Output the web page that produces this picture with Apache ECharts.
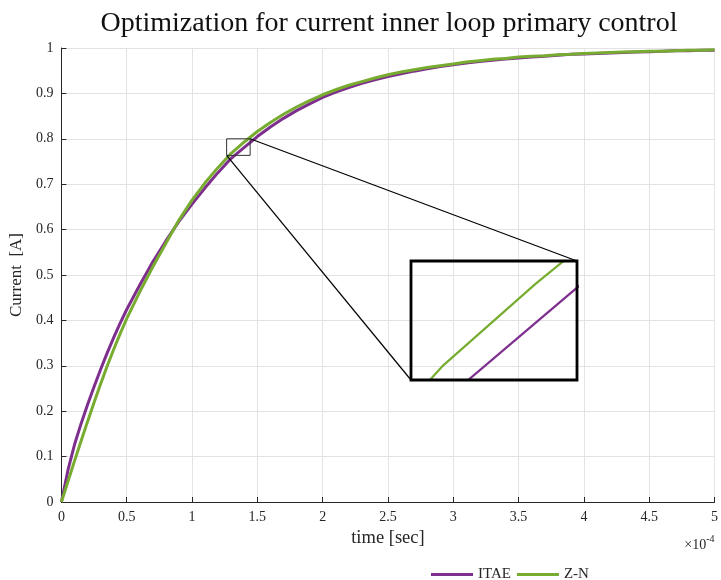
<!DOCTYPE html>
<html><head><meta charset="utf-8">
<script src="https://cdn.jsdelivr.net/npm/echarts@6/dist/echarts.min.js"></script>
<style>html,body{margin:0;padding:0;background:#fff}#c{width:721px;height:580px}</style>
</head><body><div id="c"></div>
<script>
// time in units of 1e-4 s
const time = [0,0.05,0.1,0.15,0.2,0.25,0.3,0.35,0.4,0.45,0.5,
  0.6,0.7,0.8,0.9,1.0,1.1,1.2,1.3,1.4,1.5,
  1.6,1.7,1.8,1.9,2.0,2.1,2.2,2.3,2.4,2.5,
  2.6,2.7,2.8,2.9,3.0,3.1,3.2,3.3,3.4,3.5,
  3.6,3.7,3.8,3.9,4.0,4.1,4.2,4.3,4.4,4.5,
  4.6,4.7,4.8,4.9,5.0];
const itae = [0,0.070,0.126,0.172,0.214,0.254,0.292,0.328,0.362,0.394,0.424,
  0.478,0.529,0.575,0.618,0.656,0.692,0.726,0.757,0.781,0.805,
  0.826,0.845,0.862,0.877,0.891,0.903,0.913,0.922,0.930,0.937,
  0.943,0.949,0.954,0.959,0.963,0.967,0.970,0.973,0.976,0.978,
  0.980,0.982,0.984,0.986,0.987,0.988,0.989,0.990,0.991,0.992,
  0.993,0.994,0.994,0.995,0.995];
const zn = [0,0.045,0.090,0.134,0.177,0.219,0.260,0.299,0.336,0.371,0.404,
  0.463,0.518,0.570,0.621,0.665,0.703,0.737,0.768,0.793,0.816,
  0.836,0.854,0.870,0.884,0.897,0.908,0.918,0.926,0.934,0.941,
  0.947,0.952,0.957,0.961,0.965,0.969,0.972,0.975,0.977,0.980,
  0.982,0.983,0.985,0.986,0.988,0.989,0.990,0.991,0.992,0.993,
  0.993,0.994,0.995,0.995,0.996];
const seriesNames = ['ITAE','Z-N'];
const xTicks = [0,0.5,1,1.5,2,2.5,3,3.5,4,4.5,5];
const yTicks = [0,0.1,0.2,0.3,0.4,0.5,0.6,0.7,0.8,0.9,1];
const zoomX = [1.265,1.445];
const zoomY = [0.7635,0.80];

const FONT = "'Liberation Serif', 'Times New Roman', serif";
const AX = '#262626';
const PURPLE = '#7E2F8E', GREEN = '#77AC30';

const pts = arr => time.map((t,i)=>[t,arr[i]]);

const chart = echarts.init(document.getElementById('c'), null, {renderer:'canvas'});
const axisCommon = (ticks) => ({
  type:'value', min:ticks[0], max:ticks[ticks.length-1], interval:ticks[1]-ticks[0],
  axisLine:{show:true, lineStyle:{color:AX, width:1}},
  axisTick:{show:true, inside:true, length:5, lineStyle:{color:AX}},
  axisLabel:{color:AX, fontFamily:FONT, fontSize:14},
  splitLine:{show:true, lineStyle:{color:'#e3e3e3', width:1}}
});
const hiddenAxis = (r) => ({type:'value', min:r[0], max:r[1], show:false,
  axisLine:{show:false}, axisTick:{show:false}, axisLabel:{show:false}, splitLine:{show:false}});

chart.setOption({
  animation:false,
  backgroundColor:'#fff',
  title:{text:'Optimization for current inner loop primary control', left:384, top:5, textAlign:'center',
    textStyle:{fontFamily:FONT, fontSize:28, fontWeight:'normal', color:'#111'}},
  legend:{left:426, top:562, icon:'rect', itemWidth:42, itemHeight:3, itemGap:6,
    data:seriesNames, textStyle:{fontFamily:FONT, fontSize:15, color:AX}},
  grid:[
    {left:60, right:3, top:48, bottom:78},
    {left:411, top:261, width:166, height:119, show:false}
  ],
  xAxis:[
    Object.assign(axisCommon(xTicks), {gridIndex:0, name:'time [sec]', nameLocation:'middle', nameGap:27,
      nameTextStyle:{fontFamily:FONT, fontSize:18.5, color:AX}}),
    Object.assign(hiddenAxis(zoomX), {gridIndex:1})
  ],
  yAxis:[
    Object.assign(axisCommon(yTicks), {gridIndex:0, name:'Current  [A]', nameLocation:'middle', nameGap:32, nameRotate:90,
      nameTextStyle:{fontFamily:FONT, fontSize:17, color:AX}}),
    Object.assign(hiddenAxis(zoomY), {gridIndex:1})
  ],
  series:[
    {name:seriesNames[0], type:'line', data:pts(itae), showSymbol:false, lineStyle:{color:PURPLE, width:3}, itemStyle:{color:PURPLE}, z:2},
    {name:seriesNames[1], type:'line', data:pts(zn), showSymbol:false, lineStyle:{color:GREEN, width:3}, itemStyle:{color:GREEN}, z:3},
    {name:seriesNames[0], type:'line', xAxisIndex:1, yAxisIndex:1, data:pts(itae), showSymbol:false, clip:true, silent:true, lineStyle:{color:PURPLE, width:2.2}, itemStyle:{color:PURPLE}, z:2},
    {name:seriesNames[1], type:'line', xAxisIndex:1, yAxisIndex:1, data:pts(zn), showSymbol:false, clip:true, silent:true, lineStyle:{color:GREEN, width:2.2}, itemStyle:{color:GREEN}, z:3}
  ]
});

// annotation: zoom box, inset frame and connectors (positions from the axes' scales)
const m = (x,y)=>chart.convertToPixel({xAxisIndex:0, yAxisIndex:0}, [x,y]);
const s = (x,y)=>chart.convertToPixel({xAxisIndex:1, yAxisIndex:1}, [x,y]);
const rTL = m(zoomX[0], zoomY[1]), rBR = m(zoomX[1], zoomY[0]);
const iTL = s(zoomX[0], zoomY[1]), iBR = s(zoomX[1], zoomY[0]);
const xEnd = m(xTicks[xTicks.length-1], yTicks[0]);
chart.setOption({
  graphic:[
    {type:'rect', z:100, shape:{x:rTL[0], y:rTL[1], width:rBR[0]-rTL[0], height:rBR[1]-rTL[1]},
      style:{fill:null, stroke:'#333', lineWidth:1}},
    {type:'line', z:100, shape:{x1:rBR[0], y1:rTL[1], x2:iBR[0], y2:iTL[1]}, style:{stroke:'#000', lineWidth:1.2}},
    {type:'line', z:100, shape:{x1:rTL[0], y1:rBR[1], x2:iTL[0], y2:iBR[1]}, style:{stroke:'#000', lineWidth:1.2}},
    {type:'rect', z:101, shape:{x:iTL[0], y:iTL[1], width:iBR[0]-iTL[0], height:iBR[1]-iTL[1]},
      style:{fill:null, stroke:'#000', lineWidth:2.8}},
    {type:'text', z:100, x:xEnd[0], y:xEnd[1]+41,
      style:{text:'{a|×10}{b|-4}', align:'right', verticalAlign:'middle',
        rich:{a:{fontFamily:FONT, fontSize:14, fill:AX, verticalAlign:'bottom'}, b:{fontFamily:FONT, fontSize:10, fill:AX, verticalAlign:'top', padding:[0,0,8,0]}}}}
  ]
});
</script></body></html>
